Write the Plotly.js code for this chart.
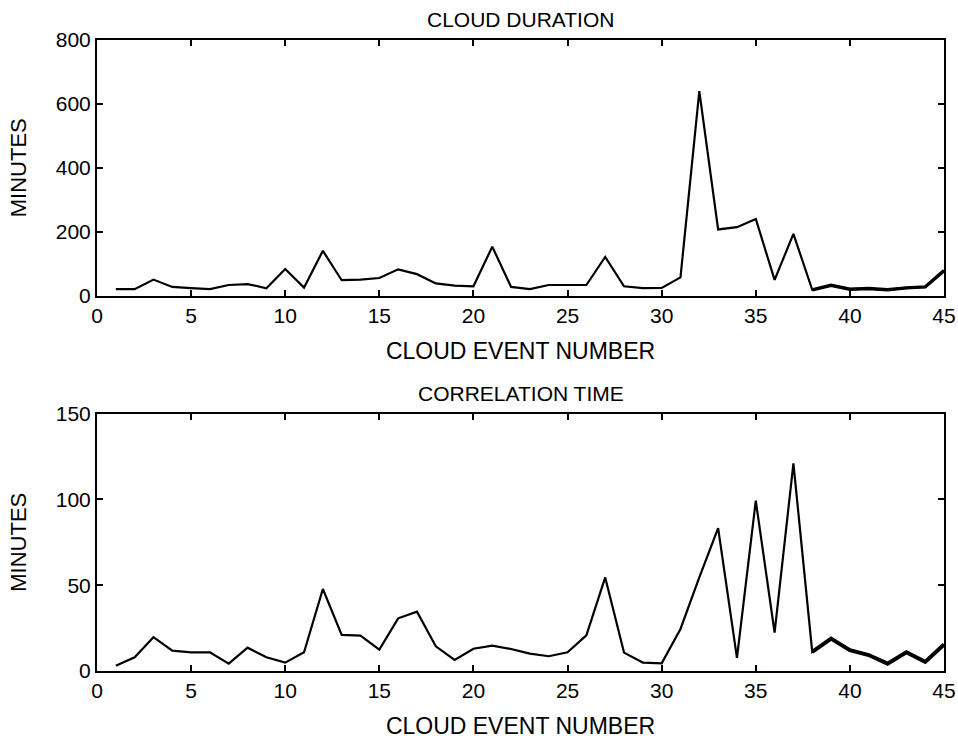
<!DOCTYPE html>
<html>
<head>
<meta charset="utf-8">
<script src="https://cdn.plot.ly/plotly-3.0.1.min.js"></script>
<style>html,body{margin:0;padding:0;background:#fff;}#chart{width:958px;height:740px;}</style>
</head>
<body>
<div id="chart"></div>
<script>
// Cloud event numbers
var eventNumbers = [1,2,3,4,5,6,7,8,9,10,11,12,13,14,15,16,17,18,19,20,21,22,23,24,25,26,27,28,29,30,31,32,33,34,35,36,37,38,39,40,41,42,43,44,45];
// Cloud duration (minutes)
var cloudDuration = [20,20,50,27,23,20,33,36,23,83,25,140,48,50,55,82,67,38,31,29,153,27,20,33,33,33,121,29,23,24,57,640,207,214,240,49,193,18,32,20,22,18,24,27,78];
// Correlation time (minutes)
var correlationTime = [3.1,8,19.7,11.9,10.9,10.9,4.3,13.6,8,4.9,10.9,47.8,21,20.6,12.5,30.7,34.6,14.4,6.4,13,14.8,12.8,10.1,8.6,10.9,20.8,54.5,10.7,4.9,4.5,24.5,54.6,83.2,7.6,99.2,22.4,121,11.1,18.9,12.1,9.3,4.3,10.9,5.3,15.4];

var xTicks = [0,5,10,15,20,25,30,35,40,45];
var y1Ticks = [0,200,400,600,800];
var y2Ticks = [0,50,100,150];

var FONT = 'Liberation Sans, Arial, sans-serif';
var tickFont = {family: FONT, size: 21, color: '#000'};
var titleFont = {family: FONT, size: 23, color: '#000'};

function xAxis(anchor) {
  return {
    anchor: anchor, range: [0, 45], tickvals: xTicks, ticks: 'inside', ticklen: 6, tickwidth: 2,
    tickcolor: '#000', showline: true, linecolor: '#000', linewidth: 2, mirror: 'ticks',
    showgrid: false, zeroline: false, tickfont: tickFont, automargin: false,
    title: {text: 'CLOUD EVENT NUMBER', font: titleFont, standoff: 17}
  };
}
function yAxis(anchor, range, vals) {
  return {
    anchor: anchor, range: range, tickvals: vals, ticks: 'inside', ticklen: 6, tickwidth: 2,
    tickcolor: '#000', showline: true, linecolor: '#000', linewidth: 2, mirror: 'ticks',
    showgrid: false, zeroline: false, tickfont: tickFont, automargin: false,
    title: {text: 'MINUTES', font: {family: FONT, size: 22, color: '#000'}, standoff: 23}
  };
}

var xa1 = xAxis('y'); var ya1 = yAxis('x', [0, 800], y1Ticks); ya1.domain = [0.595, 1];
var xa2 = xAxis('y2'); var ya2 = yAxis('x2', [0, 150], y2Ticks); ya2.domain = [0, 0.408];

var tailStart = 37; // events 38-45 are drawn with a heavier stroke in the original
var traces = [
  {x: eventNumbers, y: cloudDuration, xaxis: 'x', yaxis: 'y', type: 'scatter', mode: 'lines',
   line: {color: '#000', width: 2.2}, showlegend: false},
  {x: eventNumbers.slice(tailStart), y: cloudDuration.slice(tailStart), xaxis: 'x', yaxis: 'y', type: 'scatter', mode: 'lines',
   line: {color: '#000', width: 3.4}, showlegend: false},
  {x: eventNumbers, y: correlationTime, xaxis: 'x2', yaxis: 'y2', type: 'scatter', mode: 'lines',
   line: {color: '#000', width: 2.2}, showlegend: false},
  {x: eventNumbers.slice(tailStart), y: correlationTime.slice(tailStart), xaxis: 'x2', yaxis: 'y2', type: 'scatter', mode: 'lines',
   line: {color: '#000', width: 4}, showlegend: false}
];

var layout = {
  width: 958, height: 740,
  margin: {l: 97, r: 14, t: 40, b: 69},
  paper_bgcolor: '#fff', plot_bgcolor: '#fff',
  font: {family: FONT, color: '#000'},
  xaxis: xa1, yaxis: ya1, xaxis2: xa2, yaxis2: ya2,
  annotations: [
    {text: 'CLOUD DURATION', xref: 'paper', yref: 'paper', x: 0.5, y: 1, yanchor: 'bottom', yshift: 7,
     showarrow: false, font: {family: FONT, size: 21, color: '#000'}},
    {text: 'CORRELATION TIME', xref: 'paper', yref: 'paper', x: 0.5, y: 0.408, yanchor: 'bottom', yshift: 7,
     showarrow: false, font: {family: FONT, size: 21, color: '#000'}}
  ]
};

Plotly.newPlot('chart', traces, layout, {displayModeBar: false, staticPlot: true});
</script>
</body>
</html>
